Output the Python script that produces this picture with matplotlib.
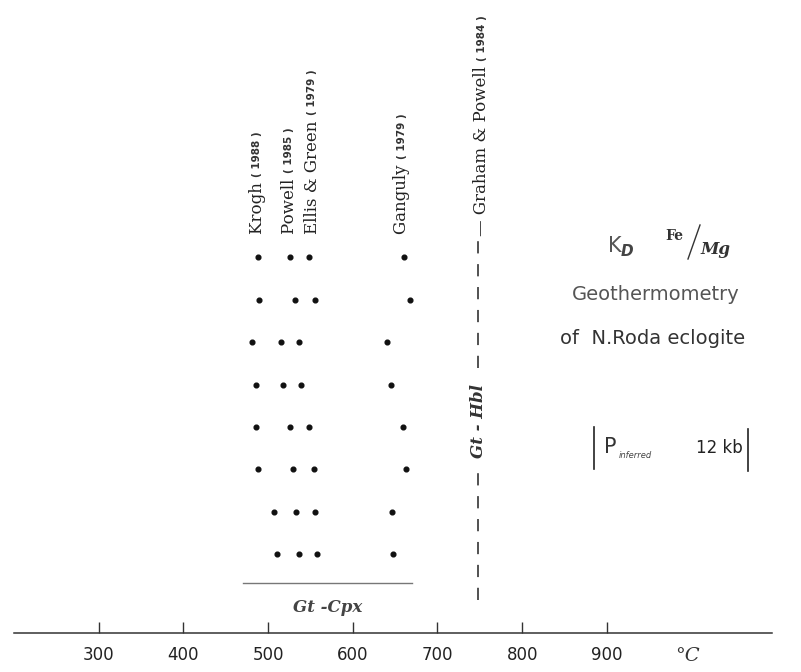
import numpy as np
import matplotlib
matplotlib.use('Agg')
import matplotlib.pyplot as plt
from matplotlib.lines import Line2D

# sample rows, top to bottom
rows = [8, 7, 6, 5, 4, 3, 2, 1]
# temperatures (deg C) from each calibration
krogh = [488, 489, 481, 486, 486, 488, 507, 511]
powell = [526, 532, 515, 518, 526, 530, 533, 537]
ellis_green = [548, 555, 537, 539, 548, 554, 555, 558]
ganguly = [661, 667, 640, 645, 659, 663, 646, 648]
graham_powell = 748

calib_names = ['Krogh', 'Powell', 'Ellis & Green', 'Ganguly']
calib_years = ['1988', '1985', '1979', '1979']
calib_label_x = [487, 525, 552, 658]

tick_vals = [300, 400, 500, 600, 700, 800, 900]
cpx_range = [470, 670]

W, H = 801, 672
def fx(px):
    return px / W
def fy(py):
    return 1 - py / H

fig = plt.figure(figsize=(W / 100, H / 100), dpi=100)
ax = fig.add_axes([fx(14), 39 / H, (772 - 14) / W, 633 / H])
ax.set_xlim(200, 1095)
ax.set_ylim(-0.86, 14.07)

for s in ['left', 'top', 'right']:
    ax.spines[s].set_visible(False)
ax.spines['bottom'].set_color('#333333')
ax.spines['bottom'].set_linewidth(1.1)
ax.set_yticks([])
ax.set_xticks(tick_vals)
ax.set_xticklabels([str(t) for t in tick_vals], family=['Liberation Sans Narrow', 'DejaVu Sans'],
                   fontsize=12, color='#222222')
ax.tick_params(axis='x', direction='in', length=8, width=1, pad=9, color='#333333')

# dots
for series in [krogh, powell, ellis_green, ganguly]:
    ax.plot(series, rows, 'o', color='#111111', ms=3.4, ls='none')

# calibration labels (rotated), year in smaller type
for name, yr, xl in zip(calib_names, calib_years, calib_label_x):
    t = ax.text(xl, 8.55, name + ' ', rotation=90, ha='center', va='bottom',
                family='DejaVu Serif', fontsize=12, color='#222222')
    ax.annotate('( ' + yr + ' )', xy=(0.5, 1), xycoords=t, rotation=90, ha='center', va='bottom',
                family='DejaVu Sans', fontsize=7.5, fontweight='bold', color='#333333')

# Gt-Hbl dashed line
ax.plot([graham_powell, graham_powell], [-0.08, 2.95], color='#222222', lw=1.1, ls=(0, (8, 7)))
ax.plot([graham_powell, graham_powell], [5.4, 8.45], color='#222222', lw=1.1, ls=(0, (8, 7)))
ax.text(graham_powell, 4.15, 'Gt - Hbl', rotation=90, ha='center', va='center',
        family='DejaVu Serif', fontsize=12, style='italic', fontweight='bold', color='#333333')
t = ax.text(graham_powell + 4, 8.5, '\u2014 Graham & Powell ', rotation=90, ha='center', va='bottom',
            family='DejaVu Serif', fontsize=12, color='#222222')
ax.annotate('( 1984 )', xy=(0.5, 1), xycoords=t, rotation=90, ha='center', va='bottom',
            family='DejaVu Sans', fontsize=7.5, fontweight='bold', color='#333333')

# Gt-Cpx range
ax.plot(cpx_range, [0.32, 0.32], color='#777777', lw=1)
ax.text(sum(cpx_range) / 2, -0.27, 'Gt -Cpx', ha='center', va='center',
        family='DejaVu Serif', fontsize=12, style='italic', fontweight='bold', color='#444444')

fig.text(fx(687), fy(656), '\u00b0C', ha='center', va='center', family='DejaVu Serif',
         style='italic', fontsize=14, color='#333333')

# title block on the right
fig.text(fx(608), fy(246), 'K', ha='left', va='center', fontsize=15, color='#555555')
fig.text(fx(621), fy(251), 'D', ha='left', va='center', fontsize=11, style='italic',
         fontweight='bold', color='#444444')
fig.text(fx(665), fy(236), 'Fe', ha='left', va='center', family='DejaVu Serif', fontsize=10,
         fontweight='bold', color='#333333')
fig.add_artist(Line2D([fx(688), fx(700)], [fy(259), fy(225)], color='#333333', lw=1))
fig.text(fx(700), fy(250), 'Mg', ha='left', va='center', family='DejaVu Serif', fontsize=12,
         style='italic', fontweight='bold', color='#333333')
fig.text(fx(656), fy(295), 'Geothermometry', ha='center', va='center', fontsize=14, color='#555555')
fig.text(fx(560), fy(338), 'of  N.Roda eclogite', ha='left', va='center', fontsize=14, color='#333333')

# pressure box
fig.add_artist(Line2D([fx(594), fx(594)], [fy(427), fy(469)], color='#222222', lw=1.2))
fig.add_artist(Line2D([fx(748), fx(748)], [fy(429), fy(471)], color='#222222', lw=1.2))
fig.text(fx(604), fy(447), 'P', ha='left', va='center', fontsize=15, color='#333333')
fig.text(fx(619), fy(455), 'inferred', ha='left', va='center', fontsize=6, style='italic', color='#444444')
fig.text(fx(696), fy(448), '12 kb', ha='left', va='center', family=['Liberation Sans Narrow', 'DejaVu Sans'],
         fontsize=12, color='#222222')

fig.savefig('out.png', dpi=100)
